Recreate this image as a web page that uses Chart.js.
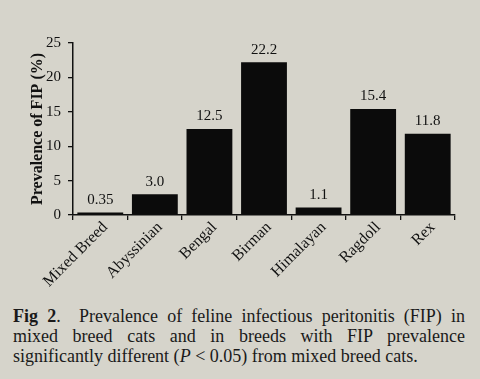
<!DOCTYPE html>
<html><head><meta charset="utf-8">
<script src="https://cdn.jsdelivr.net/npm/chart.js@4.4.1/dist/chart.umd.min.js"></script>
<style>
html,body{margin:0;padding:0;width:480px;height:379px;overflow:hidden;background:#d6d4cb;}
#wrap{position:absolute;left:0;top:0;width:480px;height:300px;}
#cap{position:absolute;left:13px;top:306px;width:452px;font-family:"Liberation Serif",serif;font-size:18px;line-height:20px;color:#1a1a1a;text-align:justify;}
</style></head><body>
<div id="wrap"><canvas id="c" width="480" height="300"></canvas></div>
<div id="cap"><b>Fig 2</b>.&nbsp; Prevalence of feline infectious peritonitis (FIP) in mixed breed cats and in breeds with FIP prevalence significantly different (<i>P</i> &lt; 0.05) from mixed breed cats.</div>
<script>
const categories = ["Mixed Breed","Abyssinian","Bengal","Birman","Himalayan","Ragdoll","Rex"];
const prevalence = [0.35, 3.0, 12.5, 22.2, 1.1, 15.4, 11.8];
const valueLabels = ["0.35","3.0","12.5","22.2","1.1","15.4","11.8"];
const yTicks = [0,5,10,15,20,25];

const serif = '"Liberation Serif", serif';
const ink = '#111';

const valuePlugin = {
  id:'vals',
  afterDatasetsDraw(chart){
    const ctx = chart.ctx;
    const meta = chart.getDatasetMeta(0);
    ctx.save();
    ctx.font = '15px ' + serif;
    ctx.fillStyle = ink;
    ctx.textAlign = 'center';
    ctx.textBaseline = 'bottom';
    meta.data.forEach((bar,i)=>{
      ctx.fillText(valueLabels[i], bar.x, bar.y - 5);
    });
    ctx.restore();
  }
};

new Chart(document.getElementById('c'), {
  type:'bar',
  data:{labels:categories, datasets:[{data:prevalence, backgroundColor:'#0b0b0b', borderWidth:0, barPercentage:0.84, categoryPercentage:1}]},
  options:{
    responsive:false, animation:false,
    layout:{padding:{left:28,right:25,top:43,bottom:0}},
    plugins:{legend:{display:false}, tooltip:{enabled:false}},
    scales:{
      x:{
        grid:{display:true, drawOnChartArea:false, offset:true, color:ink, tickLength:5, lineWidth:1.3},
        border:{display:true, color:ink, width:1.5},
        ticks:{color:ink, font:{family:serif, size:16}, minRotation:45, maxRotation:45, padding:-2, labelOffset:5},
        afterFit(s){ s.height = 85; }
      },
      y:{
        min:0, max:25,
        afterBuildTicks(s){ s.ticks = yTicks.map(v=>({value:v})); },
        grid:{display:true, drawOnChartArea:false, color:ink, tickLength:5, lineWidth:1.3},
        border:{display:true, color:ink, width:1.5},
        ticks:{color:ink, font:{family:serif, size:15}, padding:7},
        title:{display:true, text:'Prevalence of FIP (%)', color:ink, font:{family:serif, size:16, weight:'bold'}, padding:{top:0,bottom:0}},
        afterFit(s){ s.width = 45; }
      }
    }
  },
  plugins:[valuePlugin]
});
</script>
</body></html>
